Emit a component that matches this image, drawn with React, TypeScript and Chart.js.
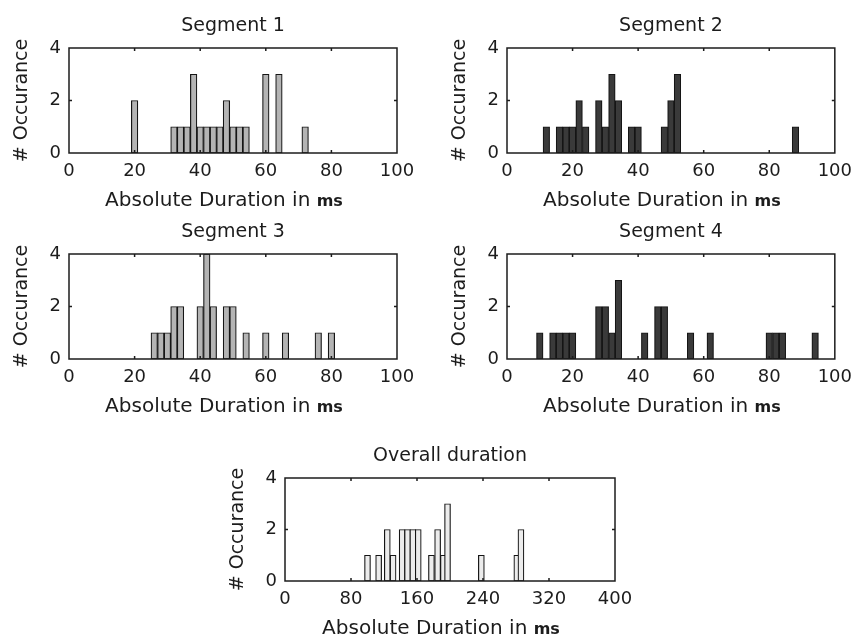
import React, { useEffect, useRef } from "react";
import { Chart, registerables } from "chart.js";

Chart.register(...registerables);

// ---- data (bin centres in ms, counts) ----
const seg1Bins = [20, 32, 34, 36, 38, 40, 42, 44, 46, 48, 50, 52, 54, 60, 64, 72];
const seg1Counts = [2, 1, 1, 1, 3, 1, 1, 1, 1, 2, 1, 1, 1, 3, 3, 1];

const seg2Bins = [12, 16, 18, 20, 22, 24, 28, 30, 32, 34, 38, 40, 48, 50, 52, 88];
const seg2Counts = [1, 1, 1, 1, 2, 1, 2, 1, 3, 2, 1, 1, 1, 2, 3, 1];

const seg3Bins = [26, 28, 30, 32, 34, 40, 42, 44, 48, 50, 54, 60, 66, 76, 80];
const seg3Counts = [1, 1, 1, 2, 2, 2, 4, 2, 2, 2, 1, 1, 1, 1, 1];

const seg4Bins = [10, 14, 16, 18, 20, 28, 30, 32, 34, 42, 46, 48, 56, 62, 80, 82, 84, 94];
const seg4Counts = [1, 1, 1, 1, 1, 2, 2, 1, 3, 1, 2, 2, 1, 1, 1, 1, 1, 1];

const overallBins = [100, 113.5, 124, 131, 142, 148.5, 155, 161.5, 177.5, 185, 192, 197, 238, 281, 286];
const overallCounts = [1, 1, 2, 1, 2, 2, 2, 2, 1, 2, 1, 3, 1, 1, 2];

const titles = ["Segment 1", "Segment 2", "Segment 3", "Segment 4", "Overall duration"];
const yLabel = "# Occurance";
const xLabelMain = "Absolute Duration in ";
const xLabelUnit = "ms";

const FONT = "'DejaVu Sans', 'Liberation Sans', sans-serif";
const TEXT = "#1c1c1c";

const matlabPlugin = {
  id: "matBox",
  afterDraw(chart: any, _args: any, opts: any) {
    const { ctx, chartArea: a, scales } = chart;
    const xs = scales.x;
    const ys = scales.y;
    ctx.save();
    ctx.strokeStyle = TEXT;
    ctx.lineWidth = 1.5;
    ctx.strokeRect(a.left, a.top, a.right - a.left, a.bottom - a.top);
    ctx.beginPath();
    xs.ticks.forEach((t: any) => {
      if (t.value <= xs.min || t.value >= xs.max) return;
      const px = xs.getPixelForValue(t.value);
      ctx.moveTo(px, a.bottom);
      ctx.lineTo(px, a.bottom - 3);
      ctx.moveTo(px, a.top);
      ctx.lineTo(px, a.top + 3);
    });
    ys.ticks.forEach((t: any) => {
      if (t.value <= ys.min || t.value >= ys.max) return;
      const py = ys.getPixelForValue(t.value);
      ctx.moveTo(a.left, py);
      ctx.lineTo(a.left + 3, py);
      ctx.moveTo(a.right, py);
      ctx.lineTo(a.right - 3, py);
    });
    ctx.stroke();

    ctx.fillStyle = TEXT;
    // title
    ctx.font = `19px ${FONT}`;
    ctx.textAlign = "center";
    ctx.textBaseline = "alphabetic";
    ctx.fillText(opts.title, (a.left + a.right) / 2, a.top - 17);

    // y label
    ctx.save();
    ctx.translate(a.left - 47, (a.top + a.bottom) / 2);
    ctx.rotate(-Math.PI / 2);
    ctx.textBaseline = "middle";
    ctx.fillText(yLabel, 0, 0);
    ctx.restore();

    // x label with bold unit
    ctx.textAlign = "left";
    ctx.font = `20px ${FONT}`;
    const w1 = ctx.measureText(xLabelMain).width;
    ctx.font = `bold 16px ${FONT}`;
    const w2 = ctx.measureText(xLabelUnit).width;
    const cx = (a.left + a.right) / 2 - 9;
    const x0 = cx - (w1 + w2) / 2;
    const by = a.bottom + 53;
    ctx.font = `20px ${FONT}`;
    ctx.fillText(xLabelMain, x0, by);
    ctx.font = `bold 16px ${FONT}`;
    ctx.fillText(xLabelUnit, x0 + w1, by);
    ctx.restore();
  },
};

type HistProps = {
  left: number;
  top: number;
  width: number;
  height: number;
  pad: { left: number; top: number; right: number; bottom: number };
  bins: number[];
  counts: number[];
  xMax: number;
  xStep: number;
  fill: string;
  title: string;
  barThickness?: number;
};

function Hist(p: HistProps) {
  const ref = useRef<HTMLCanvasElement>(null);
  useEffect(() => {
    if (!ref.current) return;
    const chart = new Chart(ref.current, {
      type: "bar",
      data: {
        datasets: [
          {
            data: p.bins.map((b, i) => ({ x: b, y: p.counts[i] })),
            backgroundColor: p.fill,
            borderColor: "#151515",
            borderWidth: 1.2,
            borderSkipped: false,
            barPercentage: 1,
            categoryPercentage: 1,
            grouped: false,
            ...(p.barThickness ? { barThickness: p.barThickness } : {}),
          } as any,
        ],
      },
      options: {
        animation: false,
        responsive: false,
        devicePixelRatio: 1,
        layout: { padding: p.pad },
        plugins: {
          legend: { display: false },
          tooltip: { enabled: false },
          title: { display: false },
          matBox: { title: p.title },
        } as any,
        scales: {
          x: {
            type: "linear",
            offset: false,
            min: 0,
            max: p.xMax,
            grid: { display: false, drawTicks: false, offset: false },
            border: { display: false },
            ticks: {
              stepSize: p.xStep,
              padding: 8,
              maxRotation: 0,
              color: TEXT,
              font: { family: FONT, size: 18 },
            },
            afterFit: (s: any) => {
              s.height = 30;
            },
          },
          y: {
            min: 0,
            max: 4,
            grid: { display: false, drawTicks: false },
            border: { display: false },
            ticks: {
              stepSize: 2,
              padding: 8,
              color: TEXT,
              font: { family: FONT, size: 18 },
            },
            afterFit: (s: any) => {
              s.width = 40;
            },
          },
        },
      },
      plugins: [matlabPlugin],
    } as any);
    return () => chart.destroy();
  }, []);
  return (
    <canvas
      ref={ref}
      width={p.width}
      height={p.height}
      style={{ position: "absolute", left: p.left, top: p.top, width: p.width, height: p.height }}
    />
  );
}

export default function App() {
  return (
    <div style={{ position: "absolute", left: 0, top: 0, width: 860, height: 637, background: "#fff", overflow: "hidden" }}>
      <Hist left={0} top={0} width={430} height={215} pad={{ left: 29, top: 48, right: 33, bottom: 32 }}
        bins={seg1Bins} counts={seg1Counts} xMax={100} xStep={20} fill="#b4b4b4" title={titles[0]} />
      <Hist left={430} top={0} width={430} height={215} pad={{ left: 37, top: 48, right: 21, bottom: 32 }}
        bins={seg2Bins} counts={seg2Counts} xMax={100} xStep={20} fill="#3a3a3a" title={titles[1]} />
      <Hist left={0} top={215} width={430} height={210} pad={{ left: 29, top: 39, right: 33, bottom: 36 }}
        bins={seg3Bins} counts={seg3Counts} xMax={100} xStep={20} fill="#b4b4b4" title={titles[2]} />
      <Hist left={430} top={215} width={430} height={210} pad={{ left: 37, top: 39, right: 20, bottom: 36 }}
        bins={seg4Bins} counts={seg4Counts} xMax={100} xStep={20} fill="#3a3a3a" title={titles[3]} />
      <Hist left={200} top={425} width={460} height={212} pad={{ left: 45, top: 53, right: 45, bottom: 26 }}
        bins={overallBins} counts={overallCounts} xMax={400} xStep={80} fill="#ececec" title={titles[4]} barThickness={6} />
    </div>
  );
}
